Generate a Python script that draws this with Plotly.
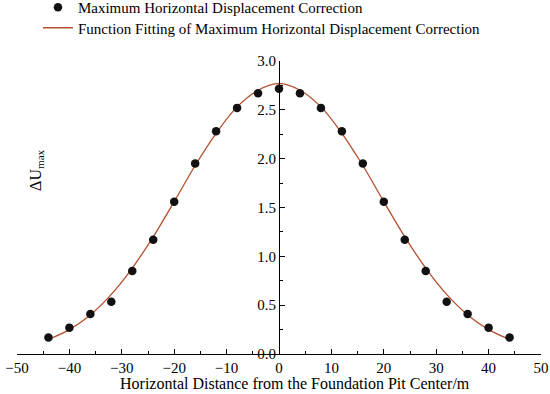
import plotly.graph_objects as go

# measured points
x_pts = [-44, -40, -36, -32, -28, -24, -20, -16, -12, -8, -4, 0,
         4, 8, 12, 16, 20, 24, 28, 32, 36, 40, 44]
y_pts = [0.17, 0.27, 0.41, 0.535, 0.85, 1.17, 1.56, 1.95, 2.28, 2.52, 2.67, 2.715,
         2.67, 2.52, 2.28, 1.95, 1.56, 1.17, 0.85, 0.535, 0.41, 0.27, 0.17]

# fitted curve
x_fit = [-44, -40, -36, -32, -28, -24, -20, -16, -12, -8, -4, 0,
         4, 8, 12, 16, 20, 24, 28, 32, 36, 40, 44]
y_fit = [0.15, 0.25, 0.40, 0.61, 0.88, 1.20, 1.56, 1.93, 2.26, 2.53, 2.70, 2.77,
         2.70, 2.53, 2.26, 1.93, 1.56, 1.20, 0.88, 0.61, 0.40, 0.25, 0.15]

x_ticks = [-50, -40, -30, -20, -10, 0, 10, 20, 30, 40, 50]
y_ticks = [0.0, 0.5, 1.0, 1.5, 2.0, 2.5, 3.0]

FONT = "Liberation Serif, Times New Roman, serif"
LINE_COLOR = "#b4502d"

fig = go.Figure()
fig.add_trace(go.Scatter(
    x=x_fit, y=y_fit, mode="lines", line=dict(color=LINE_COLOR, width=1.3, shape="spline"),
    name="Function Fitting of Maximum Horizontal Displacement Correction",
    legend="legend2"))
fig.add_trace(go.Scatter(
    x=x_pts, y=y_pts, mode="markers", marker=dict(color="#111111", size=8.5),
    name="Maximum Horizontal Displacement Correction", legend="legend"))

leg_common = dict(xref="paper", yref="paper", xanchor="left", yanchor="top",
                  bgcolor="rgba(0,0,0,0)", font=dict(family=FONT, size=15),
                  itemwidth=30)

fig.update_layout(
    width=550, height=394,
    margin=dict(l=17, r=9, t=61, b=40, autoexpand=False),
    paper_bgcolor="white", plot_bgcolor="white",
    font=dict(family=FONT, size=16, color="black"),
    showlegend=True,
    legend=dict(x=0.040, y=1.239, **leg_common),
    legend2=dict(x=0.040, y=1.169, **leg_common),
    xaxis=dict(range=[-50, 50], tickvals=x_ticks,
               ticktext=[("\u2212" + str(-v)) if v < 0 else str(v) for v in x_ticks],
               showline=True, linecolor="black", linewidth=1,
               ticks="inside", ticklen=5, tickcolor="black",
               minor=dict(ticks="inside", dtick=5, ticklen=3, tickcolor="black"),
               showgrid=False, zeroline=False, automargin=False,
               tickfont=dict(family=FONT, size=15)),
    yaxis=dict(range=[0, 3.0], tickvals=y_ticks,
               ticktext=[f"{v:.1f}" for v in y_ticks],
               anchor="free", position=0.5, side="left",
               showline=True, linecolor="black", linewidth=1,
               ticks="inside", ticklen=5, tickcolor="black",
               minor=dict(ticks="inside", dtick=0.25, ticklen=3, tickcolor="black"),
               showgrid=False, zeroline=False, automargin=False,
               tickfont=dict(family=FONT, size=15)),
    annotations=[
        dict(text="Horizontal Distance from the Foundation Pit Center/m",
             xref="paper", yref="paper", x=0.53, y=-0.099, xanchor="center",
             yanchor="middle", showarrow=False, font=dict(family=FONT, size=16)),
        dict(text="\u0394U<sub>max</sub>", xref="paper", yref="paper",
             x=0.038, y=0.628, xanchor="center", yanchor="middle",
             textangle=-90, showarrow=False, font=dict(family=FONT, size=16)),
    ],
)

fig.write_html("out.html", config={"displayModeBar": False},
               post_script="document.body.style.margin='0';document.body.style.padding='0';")
